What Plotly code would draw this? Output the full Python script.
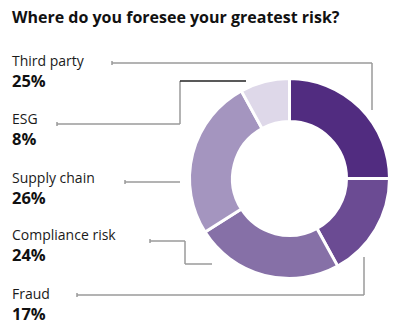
import plotly.graph_objects as go

# Survey shares, clockwise from 12 o'clock
categories = ["Third party", "Fraud", "Compliance risk", "Supply chain", "ESG"]
shares = [25, 17, 24, 26, 8]
colors = ["#512c80", "#6b4b93", "#8670a7", "#a495bf", "#ded8e9"]

# Label stack on the left (top to bottom)
label_order = ["Third party", "ESG", "Supply chain", "Compliance risk", "Fraud"]

W, H = 399, 329


def px(x):
    return x / W


def py(y):
    return 1 - y / H


fig = go.Figure()
fig.add_trace(go.Pie(
    labels=categories,
    values=shares,
    hole=0.57,
    sort=False,
    direction="clockwise",
    rotation=0,
    marker=dict(colors=colors, line=dict(color="white", width=3)),
    textinfo="none",
    hoverinfo="label+percent",
    showlegend=False,
    domain=dict(x=[px(189.5), px(389.5)], y=[py(278.5), py(78.5)]),
))

font_family = "Open Sans, Arial, sans-serif"
annotations = [dict(
    x=px(10), y=py(17), xref="paper", yref="paper",
    text="<b>Where do you foresee your greatest risk?</b>",
    showarrow=False, xanchor="left", yanchor="middle",
    font=dict(family=font_family, size=16, color="#111111"),
)]

name_y = [60, 118, 177, 234, 293]
share_of = dict(zip(categories, shares))
for name, y in zip(label_order, name_y):
    annotations.append(dict(
        x=px(10), y=py(y), xref="paper", yref="paper", text=name,
        showarrow=False, xanchor="left", yanchor="middle",
        font=dict(family=font_family, size=14, color="#1a1a1a"),
    ))
    annotations.append(dict(
        x=px(10), y=py(y + 20), xref="paper", yref="paper",
        text=f"<b>{share_of[name]}%</b>",
        showarrow=False, xanchor="left", yanchor="middle",
        font=dict(family=font_family, size=16.5, color="#111111"),
    ))

# Leader lines: polylines in pixel space, (colour, points)
grey = "#9a9a9a"
leaders = [
    (grey, [(112, 63), (372, 63), (372, 110)]),
    (grey, [(57, 124), (180, 124), (180, 81)]),
    ("#222222", [(180, 81), (246, 81)]),
    (grey, [(125, 182), (180, 182)]),
    (grey, [(150, 241), (185, 241), (185, 264), (212, 264)]),
    (grey, [(77, 295), (364, 295), (364, 257)]),
]
shapes = []
for color, pts in leaders:
    for (x0, y0), (x1, y1) in zip(pts[:-1], pts[1:]):
        shapes.append(dict(type="line", xref="paper", yref="paper",
                           x0=px(x0), y0=py(y0), x1=px(x1), y1=py(y1),
                           line=dict(color=color, width=1.5)))
# small end ticks at the label side
for x, y in [(112, 63), (57, 124), (125, 182), (150, 241), (77, 295)]:
    shapes.append(dict(type="line", xref="paper", yref="paper",
                       x0=px(x), y0=py(y - 2), x1=px(x), y1=py(y + 2),
                       line=dict(color=grey, width=1.5)))

fig.update_layout(
    width=W, height=H,
    margin=dict(l=0, r=0, t=0, b=0),
    paper_bgcolor="white", plot_bgcolor="white",
    annotations=annotations, shapes=shapes,
)

fig.write_html("out.html")
